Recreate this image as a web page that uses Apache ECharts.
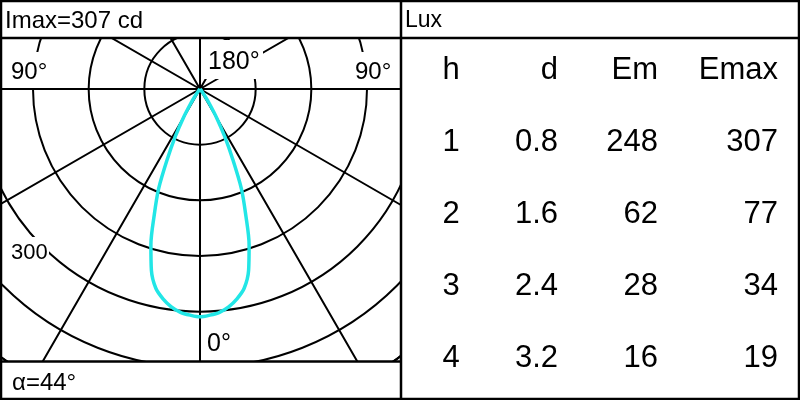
<!DOCTYPE html>
<html><head><meta charset="utf-8">
<script src="https://cdn.jsdelivr.net/npm/echarts@6/dist/echarts.min.js"></script>
<style>html,body{margin:0;padding:0;background:#fff}#c{width:800px;height:400px}</style>
</head><body><div id="c"></div>
<script>
// ---- data ----
const halfAngles    = [0, 2.5, 5, 7.5, 10, 12.5, 15, 17.5, 20, 22.5, 25, 27.5, 30, 32.5, 35, 37.5, 40, 45];
const halfIntensity = [307, 305, 302, 296, 287, 275, 253, 220, 180, 146, 104, 72, 45, 24, 11, 5, 2, 0];
const radiusMax = 450;
const radiusStep = 75;
const angleStep = 30;
const titleText = 'Imax=307 cd';
const luxText = 'Lux';
const alphaText = 'α=44°';
const angleLabels = ['180°', '90°', '90°', '0°'];
const radiusLabels = ['300'];
const tableHeader = ['h', 'd', 'Em', 'Emax'];
const colH = ['1', '2', '3', '4'];
const colD = ['0.8', '1.6', '2.4', '3.2'];
const colEm = ['248', '62', '28', '16'];
const colEmax = ['307', '77', '34', '19'];

// ---- build series data (mirror) ----
const seriesData = [];
for (let i = halfAngles.length - 1; i > 0; i--) seriesData.push([halfIntensity[i], 360 - halfAngles[i]]);
for (let i = 0; i < halfAngles.length; i++) seriesData.push([halfIntensity[i], halfAngles[i]]);

const FONT = '"Liberation Sans", Arial, sans-serif';
const Z = 100;
function rect(x, y, w, h) { return { type: 'rect', z: Z, shape: { x, y, width: w, height: h }, style: { fill: '#fff' }, silent: true }; }
function line(x1, y1, x2, y2, w) { return { type: 'line', z: Z + 2, shape: { x1, y1, x2, y2 }, style: { stroke: '#000', lineWidth: w } , silent: true}; }
function text(t, x, y, size, align) { return { type: 'text', z: Z + 3, x, y, style: { text: t, font: size + 'px ' + FONT, fill: '#000', textAlign: align || 'left', textVerticalAlign: 'middle' }, silent: true }; }

const g = [];
// masks outside the polar panel
g.push(rect(0, 0, 800, 38));
g.push(rect(0, 362, 800, 38));
g.push(rect(401, 0, 399, 400));
// label boxes
g.push(rect(203, 40, 60, 39));
g.push(rect(4, 52, 47, 36));
g.push(rect(349, 52, 49, 36));
g.push(rect(4, 237, 45, 29));
// frame
g.push({ type: 'rect', z: Z + 2, shape: { x: 1, y: 1, width: 798, height: 398 }, style: { fill: 'none', stroke: '#000', lineWidth: 2.5 }, silent: true });
g.push(line(0, 38, 800, 38, 2.5));
g.push(line(0, 361.5, 401, 361.5, 2.5));
g.push(line(401, 0, 401, 400, 2.5));
// texts
g.push(text(titleText, 5, 21, 24));
g.push(text(luxText, 405, 21, 23));
g.push(text(alphaText, 12, 383, 24));
g.push(text(angleLabels[0], 208, 62, 25));
g.push(text(angleLabels[1], 11, 72, 24));
g.push(text(angleLabels[2], 355, 72, 24));
g.push(text(angleLabels[3], 207, 344, 25));
g.push(text(radiusLabels[0], 11, 253, 22));
// table
const colX = [451, 558, 658, 778];
const colAlign = ['center', 'right', 'right', 'right'];
const rowsY = [142, 214, 286, 358];
tableHeader.forEach((t, i) => g.push(text(t, colX[i], 70, 31, colAlign[i])));
[colH, colD, colEm, colEmax].forEach((col, i) => col.forEach((t, r) => g.push(text(t, colX[i], rowsY[r], 31, colAlign[i]))));

const chart = echarts.init(document.getElementById('c'), null, { renderer: 'canvas' });
chart.setOption({
  animation: false,
  backgroundColor: '#fff',
  polar: { center: [200, 89], radius: 334 },
  radiusAxis: {
    type: 'value', min: 0, max: radiusMax, interval: radiusStep,
    axisLine: { show: false }, axisTick: { show: false }, axisLabel: { show: false },
    splitLine: { show: true, lineStyle: { color: '#000', width: 2 } }
  },
  angleAxis: {
    type: 'value', min: 0, max: 360, interval: angleStep, startAngle: -90, clockwise: true,
    axisLine: { show: true, lineStyle: { color: '#000', width: 2 } }, axisTick: { show: false }, axisLabel: { show: false },
    splitLine: { show: true, lineStyle: { color: '#000', width: 2 } }
  },
  series: [{
    type: 'line', coordinateSystem: 'polar', data: seriesData, showSymbol: false, smooth: 0.3,
    lineStyle: { color: '#22e6e6', width: 3.5 }, z: 5
  }],
  graphic: { elements: g }
});
</script></body></html>
